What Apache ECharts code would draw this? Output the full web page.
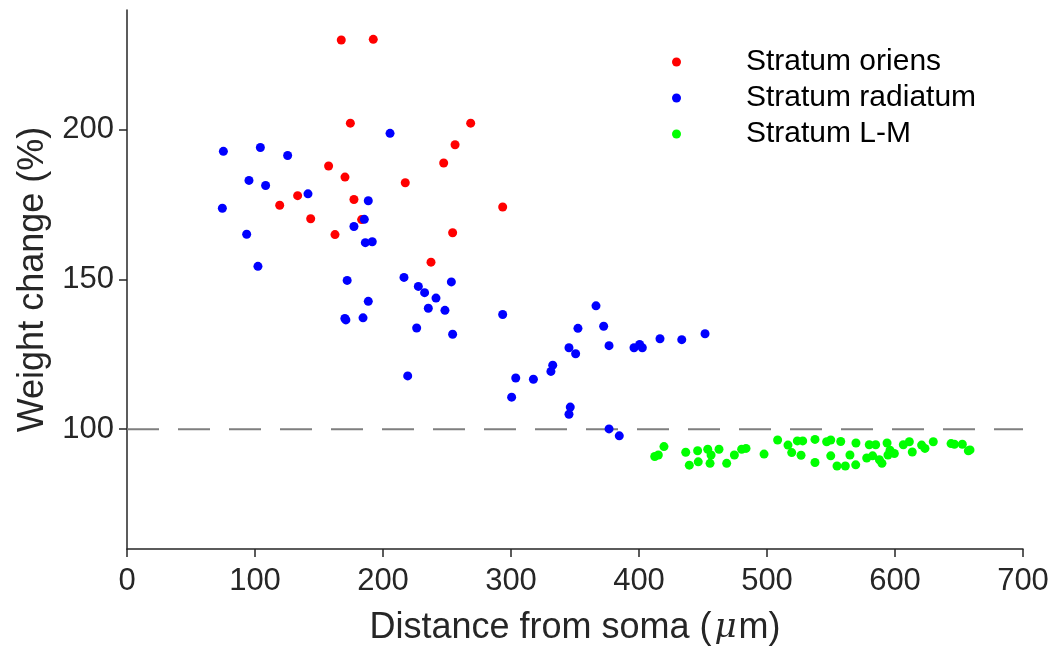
<!DOCTYPE html>
<html>
<head>
<meta charset="utf-8">
<script src="https://cdn.jsdelivr.net/npm/echarts@6/dist/echarts.min.js"></script>
<style>html,body{margin:0;padding:0;background:#fff}#c{width:1058px;height:651px}</style>
</head>
<body>
<div id="c"></div>
<script>
// Stratum oriens: [distance (µm), weight change (%)]
const oriens = [
  [167.4,230.0],[192.4,230.2],[174.5,202.2],[268.5,202.2],[256.3,195.0],[157.5,187.9],
  [247.4,188.9],[170.3,184.2],[217.4,182.3],[177.3,176.7],[293.5,174.2],[183.3,170.0],
  [162.5,165.0],[254.4,165.6],[237.5,155.8],[143.5,170.3],[133.3,178.0],[119.3,174.8]
];
// Stratum radiatum
const radiatum = [
  [75.3,192.8],[104.2,194.1],[125.5,191.4],[95.3,183.1],[108.3,181.4],[141.4,178.6],
  [74.5,173.8],[93.5,165.1],[102.3,154.4],[205.5,198.8],[188.5,176.3],[185.4,170.1],
  [177.3,167.7],[186.2,162.3],[191.6,162.6],[172.0,149.7],[216.4,150.7],[227.6,147.7],
  [232.5,145.6],[241.4,143.8],[235.4,140.4],[248.4,139.7],[253.4,149.2],[188.5,142.7],
  [170.2,137.0],[171.0,136.5],[184.4,137.2],[226.3,133.8],[254.4,131.7],[219.3,117.8],
  [293.5,138.3],[366.4,141.2],[352.3,133.7],[372.4,134.4],[345.3,127.2],[350.5,125.2],
  [376.6,127.9],[396.1,127.2],[400.5,128.3],[402.6,127.2],[416.4,130.2],[433.4,129.9],
  [451.6,131.9],[332.6,121.4],[331.2,119.3],[303.7,117.1],[317.5,116.7],[300.5,110.7],
  [346.3,107.4],[345.3,105.0],[376.6,100.1],[384.6,97.8]
];
// Stratum L-M
const lm = [
  [419.5,94.2],[412.3,90.9],[415.1,91.4],[436.5,92.3],[445.8,92.8],[439.3,88.0],
  [446.3,89.1],[453.7,93.3],[456.3,91.4],[455.5,88.6],[462.5,93.3],[468.5,88.6],
  [474.5,91.4],[480.2,93.3],[483.6,93.6],[497.7,91.7],[508.3,96.4],[516.4,94.7],
  [519.3,92.2],[523.7,96.1],[527.9,96.1],[526.6,91.3],[537.5,96.6],[537.5,88.9],
  [546.6,95.8],[549.8,96.4],[549.8,91.1],[557.6,95.9],[554.7,87.7],[561.2,87.7],
  [564.8,91.4],[569.5,95.4],[569.3,88.1],[577.9,90.4],[579.9,94.8],[584.9,94.8],
  [582.5,91.1],[587.8,89.8],[589.8,88.6],[593.8,95.4],[596.1,93.0],[594.5,91.4],
  [599.5,91.9],[606.5,94.8],[611.2,95.8],[613.5,92.4],[620.8,94.7],[623.4,93.6],
  [629.9,95.8],[643.8,95.2],[646.4,95.0],[652.6,95.0],[658.6,93.1],[657.3,92.8]
];
const refLine = [[0,100],[700,100]];
const yTicks = [100,150,200];
const seriesNames = ['Stratum oriens','Stratum radiatum','Stratum L-M'];

const axisColor = '#262626';
const font = 'Liberation Sans, Arial, Helvetica, sans-serif';
const chart = echarts.init(document.getElementById('c'), null, {renderer:'canvas'});
chart.setOption({
  animation:false,
  backgroundColor:'#ffffff',
  grid:{left:127,right:35,top:10,bottom:101,containLabel:false},
  legend:{
    data:seriesNames,
    orient:'vertical',
    left:667, top:42,
    icon:'circle', itemWidth:9, itemHeight:9, itemGap:6,
    textStyle:{fontFamily:font,fontSize:30,color:'#000',padding:[0,0,0,60],lineHeight:30}
  },
  xAxis:{
    type:'value',min:0,max:700,interval:100,
    name:'{n|Distance from soma (}{i|\u03bc}{n|m)}',nameLocation:'middle',nameGap:61,
    nameTextStyle:{fontFamily:font,fontSize:36,color:axisColor,
      rich:{
        n:{fontFamily:font,fontSize:36,color:axisColor},
        i:{fontFamily:'DejaVu Serif, serif',fontStyle:'italic',fontSize:34,color:axisColor,padding:[0,2,0,3]}
      }},
    axisLine:{show:true,onZero:false,lineStyle:{color:axisColor,width:1.5}},
    axisTick:{show:true,inside:false,length:8,lineStyle:{color:axisColor,width:1.5}},
    axisLabel:{fontFamily:font,fontSize:31,color:axisColor,margin:17},
    splitLine:{show:false}
  },
  yAxis:{
    type:'value',min:60,max:240,
    name:'Weight change (%)',nameLocation:'middle',nameGap:76,nameRotate:90,
    nameTextStyle:{fontFamily:font,fontSize:36,color:axisColor},
    axisLine:{show:true,onZero:false,lineStyle:{color:axisColor,width:1.5}},
    axisTick:{show:true,inside:false,length:8,customValues:yTicks,lineStyle:{color:axisColor,width:1.5}},
    axisLabel:{fontFamily:font,fontSize:31,color:axisColor,margin:13,customValues:yTicks},
    splitLine:{show:false}
  },
  series:[
    {name:'ref',type:'line',data:refLine,symbol:'none',silent:true,z:1,
     lineStyle:{color:'#7f7f7f',width:2,type:[32,19]}},
    {name:seriesNames[0],type:'scatter',data:oriens,symbolSize:9,itemStyle:{color:'#ff0000',opacity:1},z:3},
    {name:seriesNames[1],type:'scatter',data:radiatum,symbolSize:9,itemStyle:{color:'#0000ff',opacity:1},z:3},
    {name:seriesNames[2],type:'scatter',data:lm,symbolSize:9,itemStyle:{color:'#00ff00',opacity:1},z:3}
  ]
});
</script>
</body>
</html>
